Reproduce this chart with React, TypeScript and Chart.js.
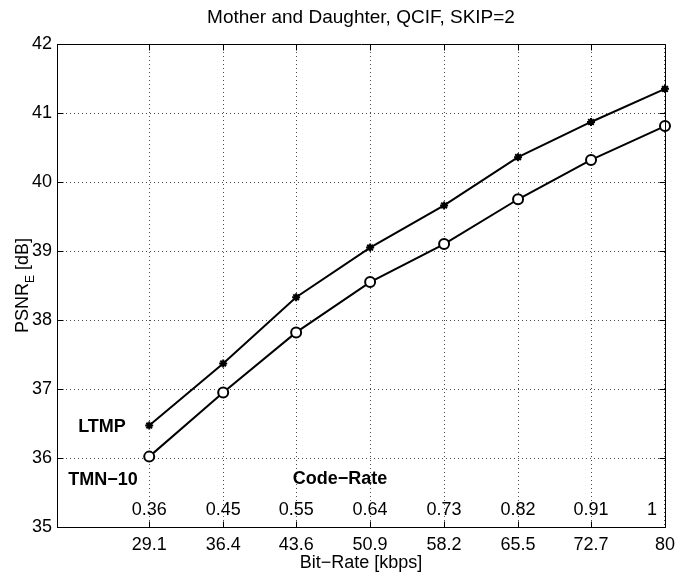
import React, { useEffect, useRef } from "react";
import { Chart, registerables } from "chart.js";

Chart.register(...registerables);

const bitRate = [29.1, 36.4, 43.6, 50.9, 58.2, 65.5, 72.7, 80];
const bitRateLabels = ["29.1", "36.4", "43.6", "50.9", "58.2", "65.5", "72.7", "80"];
const codeRate = ["0.36", "0.45", "0.55", "0.64", "0.73", "0.82", "0.91", "1"];
const ltmp = [36.47, 37.37, 38.33, 39.05, 39.66, 40.36, 40.87, 41.35];
const tmn10 = [36.02, 36.95, 37.82, 38.55, 39.1, 39.75, 40.32, 40.81];
const yTicks = [35, 36, 37, 38, 39, 40, 41, 42];

const FONT = '"Liberation Sans", Arial, Helvetica, sans-serif';

const decorPlugin = {
  id: "decor",
  afterDraw(chart: any) {
    const { ctx, chartArea } = chart;
    const { left, right, top, bottom } = chartArea;
    const xs = chart.scales.x;
    const ys = chart.scales.y;
    ctx.save();
    // box
    ctx.strokeStyle = "#000";
    ctx.lineWidth = 1;
    ctx.setLineDash([]);
    const L = Math.round(left) + 0.5;
    const R = Math.round(right) + 0.5;
    const T = Math.round(top) + 0.5;
    const B = Math.round(bottom) + 0.5;
    ctx.beginPath();
    ctx.moveTo(L, T);
    ctx.lineTo(R, T);
    ctx.lineTo(R, B);
    ctx.lineTo(L, B);
    ctx.closePath();
    ctx.stroke();
    // inward ticks
    const tl = 6;
    ctx.beginPath();
    bitRate.forEach((v) => {
      const px = Math.round(xs.getPixelForValue(v)) + 0.5;
      ctx.moveTo(px, B);
      ctx.lineTo(px, B - tl);
      ctx.moveTo(px, T);
      ctx.lineTo(px, T + tl);
    });
    yTicks.forEach((v) => {
      const py = Math.round(ys.getPixelForValue(v)) + 0.5;
      ctx.moveTo(L, py);
      ctx.lineTo(L + tl, py);
      ctx.moveTo(R, py);
      ctx.lineTo(R - tl, py);
    });
    ctx.stroke();

    // title
    ctx.fillStyle = "#000";
    ctx.font = `19px ${FONT}`;
    ctx.textAlign = "center";
    ctx.textBaseline = "alphabetic";
    ctx.fillText("Mother and Daughter, QCIF, SKIP=2", (left + right) / 2, 23);

    // code rate labels
    ctx.font = `18px ${FONT}`;
    ctx.textBaseline = "middle";
    bitRate.forEach((v, i) => {
      const px = xs.getPixelForValue(v);
      if (i === bitRate.length - 1) {
        ctx.textAlign = "right";
        ctx.fillText(codeRate[i], px - 8, bottom - 17);
      } else {
        ctx.textAlign = "center";
        ctx.fillText(codeRate[i], px, bottom - 17);
      }
    });

    // bold annotations
    ctx.font = `bold 18px ${FONT}`;
    ctx.textAlign = "center";
    ctx.fillText("LTMP", left + 45, top + 383);
    ctx.fillText("TMN\u221210", left + 46, top + 436);
    ctx.fillText("Code\u2212Rate", left + 283, top + 435);

    // y axis title with subscript
    ctx.translate(28, (top + bottom) / 2);
    ctx.rotate(-Math.PI / 2);
    ctx.textAlign = "left";
    ctx.textBaseline = "alphabetic";
    const mainFont = `18px ${FONT}`;
    const subFont = `12px ${FONT}`;
    ctx.font = mainFont;
    const w1 = ctx.measureText("PSNR").width;
    const w3 = ctx.measureText(" [dB]").width;
    ctx.font = subFont;
    const w2 = ctx.measureText("E").width;
    const total = w1 + w2 + w3;
    let x0 = -total / 2;
    ctx.font = mainFont;
    ctx.fillText("PSNR", x0, 0);
    x0 += w1;
    ctx.font = subFont;
    ctx.fillText("E", x0, 6);
    x0 += w2;
    ctx.font = mainFont;
    ctx.fillText(" [dB]", x0, 0);
    ctx.restore();
  },
};

export default function App() {
  const ref = useRef<HTMLCanvasElement | null>(null);
  useEffect(() => {
    if (!ref.current) return;
    const gridOpts = {
      drawTicks: false,
      color: "rgba(0,0,0,0.7)",
      lineWidth: 1,
    };
    const chart = new Chart(ref.current, {
      type: "line",
      data: {
        datasets: [
          {
            label: "LTMP",
            data: bitRate.map((x, i) => ({ x, y: ltmp[i] })),
            borderColor: "#000",
            backgroundColor: "#000",
            borderWidth: 2,
            pointStyle: "star",
            pointRadius: 4,
            pointBorderWidth: 2,
            pointBorderColor: "#000",
            pointBackgroundColor: "#000",
            clip: false,
          } as any,
          {
            label: "TMN-10",
            data: bitRate.map((x, i) => ({ x, y: tmn10[i] })),
            borderColor: "#000",
            backgroundColor: "#fff",
            borderWidth: 2,
            pointStyle: "circle",
            pointRadius: 5,
            pointBorderWidth: 2,
            pointBorderColor: "#000",
            pointBackgroundColor: "#fff",
            clip: false,
          } as any,
        ],
      },
      options: {
        animation: false,
        responsive: false,
        maintainAspectRatio: false,
        layout: { padding: { top: 44, right: 12, left: 0, bottom: 0 } },
        plugins: {
          legend: { display: false },
          title: { display: false },
          tooltip: { enabled: false },
        },
        scales: {
          x: {
            type: "linear",
            min: 20,
            max: 80,
            afterBuildTicks: (scale: any) => {
              scale.ticks = bitRate.map((v) => ({ value: v }));
            },
            afterFit: (scale: any) => {
              scale.height = 45;
            },
            ticks: {
              autoSkip: false,
              maxRotation: 0,
              padding: 7,
              color: "#000",
              font: { family: FONT, size: 18 },
              callback: (_v: any, i: number) => bitRateLabels[i],
            },
            grid: gridOpts,
            border: { display: true, color: "#000", width: 1, dash: [1, 3] },
            title: {
              display: true,
              text: "Bit\u2212Rate [kbps]",
              color: "#000",
              font: { family: FONT, size: 18, lineHeight: 1 },
              padding: { top: 0, bottom: 0 },
            },
          },
          y: {
            type: "linear",
            min: 35,
            max: 42,
            afterBuildTicks: (scale: any) => {
              scale.ticks = yTicks.map((v) => ({ value: v }));
            },
            afterFit: (scale: any) => {
              scale.width = 57;
            },
            ticks: {
              padding: 5,
              color: "#000",
              font: { family: FONT, size: 18 },
            },
            grid: gridOpts,
            border: { display: true, color: "#000", width: 1, dash: [1, 3] },
          },
        },
      } as any,
      plugins: [decorPlugin],
    });
    return () => chart.destroy();
  }, []);
  return (
    <div style={{ position: "absolute", left: 0, top: 0, width: 682, height: 572, background: "#fff" }}>
      <canvas ref={ref} width={682} height={572} style={{ width: 682, height: 572 }} />
    </div>
  );
}
